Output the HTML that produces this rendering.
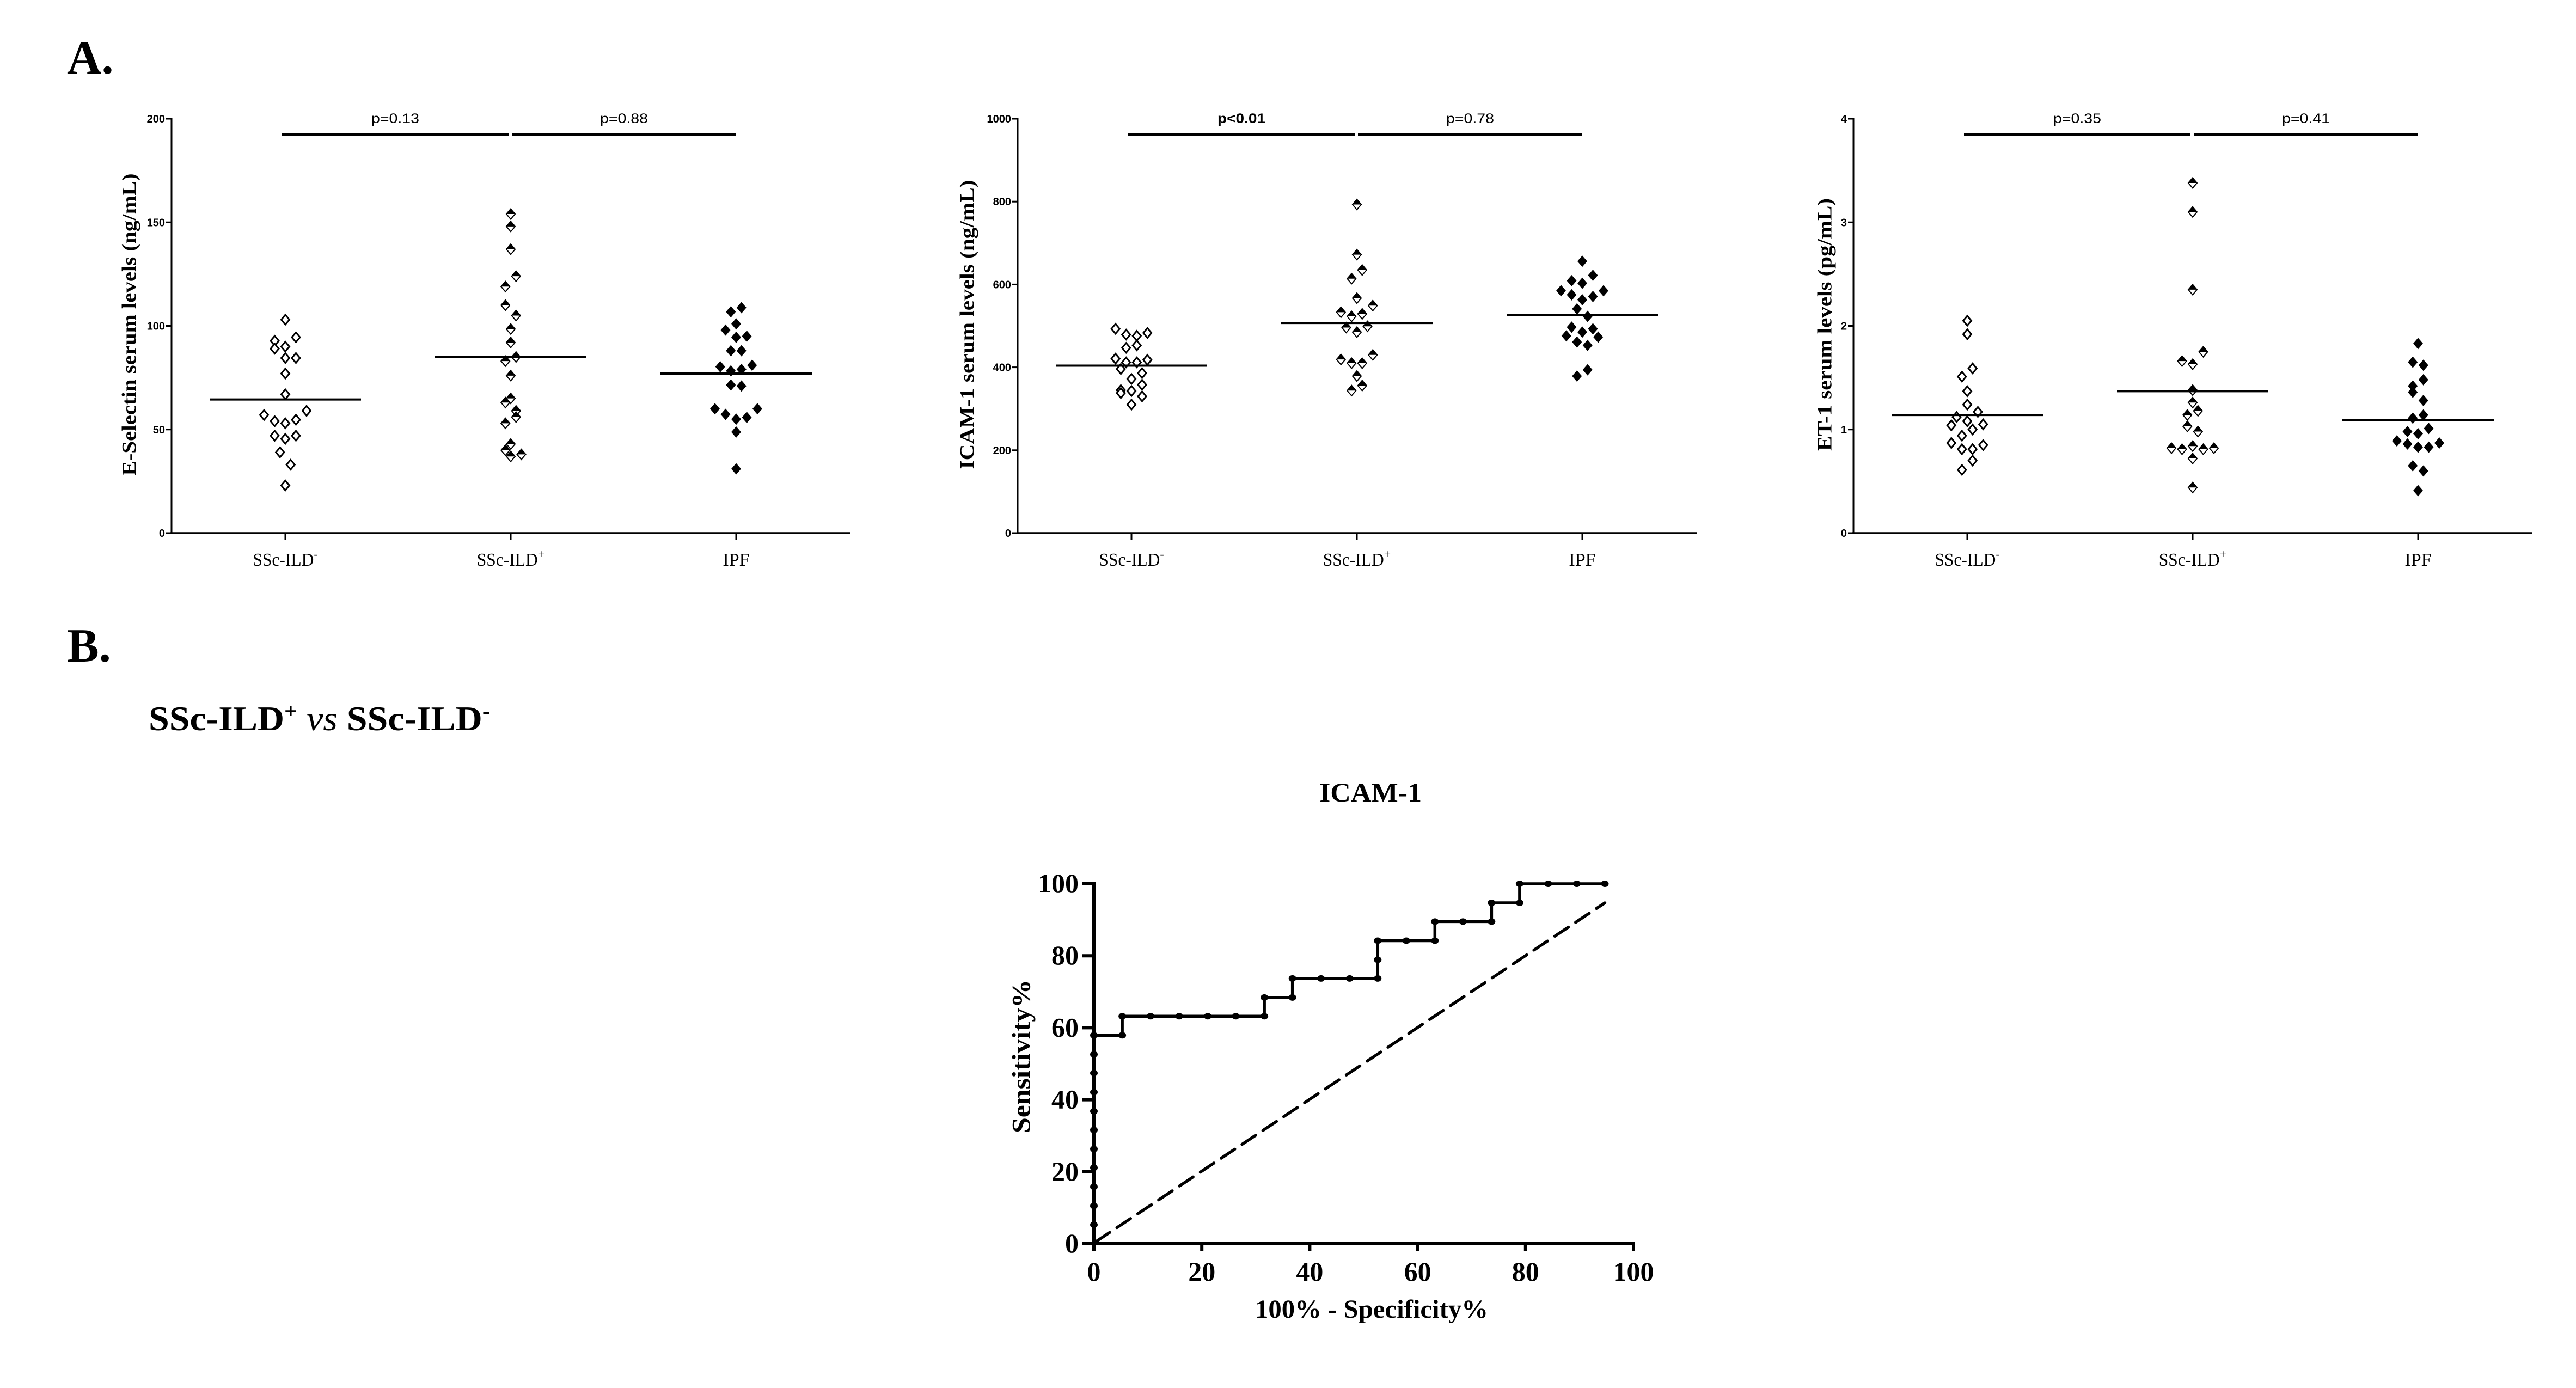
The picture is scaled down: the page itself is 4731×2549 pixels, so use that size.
<!DOCTYPE html>
<html><head><meta charset="utf-8"><style>
html,body{margin:0;padding:0;background:#fff;}
svg{display:block;}
text{fill:#000;}
</style></head><body>
<svg id="fig" width="4731" height="2549" viewBox="0 0 4731 2549" xmlns="http://www.w3.org/2000/svg">
<text x="123" y="135" font-family="Liberation Serif, serif" font-weight="bold" font-size="88">A.</text>
<text x="123" y="1215" font-family="Liberation Serif, serif" font-weight="bold" font-size="88">B.</text>
<text x="273" y="1341" font-family="Liberation Serif, serif" font-weight="bold" font-size="64" textLength="627" lengthAdjust="spacingAndGlyphs">SSc-ILD<tspan font-size="40" dy="-22">+</tspan><tspan dy="22"> </tspan><tspan font-style="italic" font-weight="normal">vs</tspan> SSc-ILD<tspan font-size="40" dy="-22">-</tspan></text>
<g id="panels"></g>
<g id="roc"></g>
</svg>
<script>
// ===== Panel A data =====
const categories = ["SSc-ILD", "SSc-ILD", "IPF"];
const catSup = ["-", "+", ""];
// E-selectin
const esel_neg = [103,94.5,92.8,90,89,84.5,84.5,77,67,59,57,54,53,54.7,47,45.5,47,39,33,23];
const esel_neg_off = [0,1,-1,0,-1,0,1,0,0,2,-2,-1,0,1,-1,0,1,-0.5,0.5,0];
const esel_pos = [154,148,137,124,119,110,105,98.5,92,85,83,76,65,63,59,56,53,43,40,38,37];
const esel_pos_off = [0,0,0,0.5,-0.5,-0.5,0.5,0,0,0.5,-0.5,0,0,-0.5,0.5,0.5,-0.5,0,-0.5,1,0];
const esel_ipf = [108.8,106.8,101,98,94.5,95,88,88,80.3,81,78.3,79,71.5,71,60,57.3,55,55.8,60,48.8,31];
const esel_ipf_off = [0.5,-0.5,0,-1,0,1,-0.5,0.5,-1.5,1.5,-0.5,0.5,-0.5,0.5,-2,-1,0,1,2,0,0];
const esel_medians = [64.5,85,77];
const esel_ticks = [0,50,100,150,200];
// ICAM-1
const icam_neg = [493,479,476,483,447,453,421,412,412,418,396,386,372,358,345,343,338,330,310];
const icam_neg_off = [-1.5,-0.5,0.5,1.5,-0.5,0.5,-1.5,-0.5,0.5,1.5,-1,1,0,1,-1,0,-1,1,0];
const icam_pos = [793,672,635,614,567,549,533,529,523,496,499,485,430,419,410,410,379,356,344];
const icam_pos_off = [0,0,0.5,-0.5,0,1.5,-1.5,0.5,-0.5,-1,1,0,1.5,-1.5,-0.5,0.5,0,0.5,-0.5];
const icam_ipf = [656,622,609,603,585,585,575,571,563,541,523,497,493,485,476,473,461,453,394,379];
const icam_ipf_off = [0,1,-1,0,-2,2,-1,1,0,-0.5,0.5,-1,1,0,-1.5,1.5,-0.5,0.5,0.5,-0.5];
const icam_medians = [404,507,526];
const icam_ticks = [0,200,400,600,800,1000];
// ET-1
const et_neg = [2.05,1.92,1.59,1.51,1.37,1.24,1.17,1.12,1.08,1.04,1.05,1.0,0.94,0.87,0.85,0.81,0.81,0.70,0.61];
const et_neg_off = [0,0,0.5,-0.5,0,0,1,-1,0,-1.5,1.5,0.5,-0.5,-1.5,1.5,-0.5,0.5,0.5,-0.5];
const et_pos = [3.38,3.10,2.35,1.75,1.66,1.63,1.38,1.26,1.18,1.14,1.03,0.98,0.84,0.82,0.81,0.81,0.82,0.72,0.44];
const et_pos_off = [0,0,0,1,-1,0,0,0,0.5,-0.5,-0.5,0.5,0,-2,-1,1,2,0,0];
const et_ipf = [1.83,1.65,1.62,1.48,1.42,1.36,1.28,1.14,1.11,1.01,0.98,0.96,0.89,0.86,0.87,0.83,0.83,0.65,0.60,0.41];
const et_ipf_off = [0,-0.5,0.5,0.5,-0.5,-0.5,0.5,0.5,-0.5,1,-1,0,-2,-1,2,0,1,-0.5,0.5,0];
const et_medians = [1.14,1.37,1.09];
const et_ticks = [0,1,2,3,4];
const pvals_esel = ["p=0.13","p=0.88"];
const pvals_icam = ["p<0.01","p=0.78"];
const pvals_et = ["p=0.35","p=0.41"];

// ===== ROC data =====
const roc_x = [0,0,0,0,0,0,0,0,0,0,0,5.26,5.26,10.5,15.8,21.1,26.3,31.6,31.6,36.8,36.8,42.1,47.4,52.6,52.6,52.6,57.9,63.2,63.2,68.4,73.7,73.7,78.9,78.9,84.2,89.5,94.7];
const roc_y = [5.26,10.5,15.8,21.1,26.3,31.6,36.8,42.1,47.4,52.6,57.9,57.9,63.2,63.2,63.2,63.2,63.2,63.2,68.4,68.4,73.7,73.7,73.7,73.7,78.9,84.2,84.2,84.2,89.5,89.5,89.5,94.7,94.7,100,100,100,100];
const roc_ticks = [0,20,40,60,80,100];
const ref_line = [0,94.7];

const NS = "http://www.w3.org/2000/svg";
function mk(tag, attrs, parent) {
  const e = document.createElementNS(NS, tag);
  for (const k in attrs) e.setAttribute(k, attrs[k]);
  parent.appendChild(e);
  return e;
}
const SERIF = "Liberation Serif, serif";
const SANS = "Liberation Sans, sans-serif";

const panelsG = document.getElementById("panels");
const panels = [
  {ax:315, max:200, ticks:esel_ticks, groups:[[esel_neg,esel_neg_off],[esel_pos,esel_pos_off],[esel_ipf,esel_ipf_off]], med:esel_medians, p:pvals_esel, title:"E-Selectin serum levels (ng/mL)", tx:238, tlen:555, name:"e-selectin"},
  {ax:1869, max:1000, ticks:icam_ticks, groups:[[icam_neg,icam_neg_off],[icam_pos,icam_pos_off],[icam_ipf,icam_ipf_off]], med:icam_medians, p:pvals_icam, title:"ICAM-1 serum levels (ng/mL)", tx:1777, tlen:531, name:"icam-1"},
  {ax:3404, max:4, ticks:et_ticks, groups:[[et_neg,et_neg_off],[et_pos,et_pos_off],[et_ipf,et_ipf_off]], med:et_medians, p:pvals_et, title:"ET-1 serum levels (pg/mL)", tx:3352, tlen:464, name:"et-1"}
];
const Y0 = 979, Y1 = 218;
panels.forEach((P, pi) => {
  const g = mk("g", {}, panelsG);
  
  
  const yS = v => Y0 - (v / P.max) * (Y0 - Y1);
  const catX = i => P.ax + 209 + i * 414;
  const ya = mk("line", {x1:P.ax, y1:Y1-2, x2:P.ax, y2:Y0+2, stroke:"#000", "stroke-width":3}, g);
  
  
  const xa = mk("line", {x1:P.ax-2, y1:Y0, x2:P.ax+1247, y2:Y0, stroke:"#000", "stroke-width":3.5}, g);
  
  
  P.ticks.forEach(t => {
    const y = yS(t);
    const tl = mk("line", {x1:P.ax-10, y1:y, x2:P.ax, y2:y, stroke:"#000", "stroke-width":3}, g);
    
    
    const tt = mk("text", {x:P.ax-12, y:y+7, "text-anchor":"end", "font-family":SANS, "font-weight":"bold", "font-size":20}, g);
    
    
    tt.textContent = String(t);
  });
  const tt = mk("text", {x:0, y:0, transform:`translate(${P.tx},596) rotate(-90)`, "text-anchor":"middle", "dominant-baseline":"central", "font-family":SERIF, "font-weight":"bold", "font-size":37, textLength:P.tlen, lengthAdjust:"spacingAndGlyphs"}, g);
  
  
  tt.textContent = P.title;
  categories.forEach((c, i) => {
    const x = catX(i);
    const tk = mk("line", {x1:x, y1:Y0, x2:x, y2:Y0+12, stroke:"#000", "stroke-width":3}, g);
    
    
    const lab = mk("text", {x:x, y:1039, "text-anchor":"middle", "font-family":SERIF, "font-size":34}, g);
    
    
    if (catSup[i]) {
      const t1 = mk("tspan", {textLength:112, lengthAdjust:"spacingAndGlyphs"}, lab);
      t1.textContent = c;
      const t2 = mk("tspan", {dy:-14, "font-size":22}, lab);
      t2.textContent = catSup[i];
    } else {
      lab.textContent = c;
    }
  });
  const bars = [[catX(0)-6, catX(1)-4], [catX(1)+2, catX(2)]];
  bars.forEach((b, i) => {
    const bl = mk("line", {x1:b[0], y1:247, x2:b[1], y2:247, stroke:"#000", "stroke-width":4.5}, g);
    
    
    const pt = mk("text", {x:(b[0]+b[1])/2, y:226, "text-anchor":"middle", "font-family":SANS, "font-size":25, "font-weight": P.p[i].indexOf("<")>=0 ? "bold" : "normal", textLength:88, lengthAdjust:"spacingAndGlyphs"}, g);
    
    
    pt.textContent = P.p[i];
  });
  P.groups.forEach((grp, gi) => {
    const vals = grp[0], offs = grp[1];
    vals.forEach((v, k) => {
      const cx = catX(gi) + offs[k] * 19.5, cy = yS(v);
      const hw = 9, hh = 10.5;
      const d = `M${cx},${cy-hh} L${cx+hw},${cy} L${cx},${cy+hh} L${cx-hw},${cy} Z`;
      if (gi === 0) {
        const m = mk("path", {d:`M${cx},${cy-hh+1.5} L${cx+hw-1.5},${cy} L${cx},${cy+hh-1.5} L${cx-hw+1.5},${cy} Z`, fill:"#fff", stroke:"#000", "stroke-width":3}, g);
        
        
      } else if (gi === 1) {
        const m = mk("path", {d:`M${cx},${cy-hh+1} L${cx+hw-1},${cy} L${cx},${cy+hh-1} L${cx-hw+1},${cy} Z`, fill:"#fff", stroke:"#000", "stroke-width":2}, g);
        
        
        const h = mk("path", {d:`M${cx},${cy-hh} L${cx+hw},${cy} L${cx-hw},${cy} Z`, fill:"#000"}, g);
        
        
      } else {
        const m = mk("path", {d:d, fill:"#000"}, g);
        
        
      }
    });
    const my = yS(P.med[gi]);
    const ml = mk("line", {x1:catX(gi)-139, y1:my, x2:catX(gi)+139, y2:my, stroke:"#000", "stroke-width":4}, g);
    
    
  });
});

// ===== ROC =====
const R = document.getElementById("roc");
const RX0 = 2009, RX1 = 3000, RY0 = 2284, RY1 = 1623;
const rx = v => RX0 + v / 100 * (RX1 - RX0);
const ry = v => RY0 - v / 100 * (RY0 - RY1);
const rt = mk("text", {x:2517, y:1472, "text-anchor":"middle", "font-family":SERIF, "font-weight":"bold", "font-size":50, textLength:188, lengthAdjust:"spacingAndGlyphs"}, R);


rt.textContent = "ICAM-1";
const rya = mk("line", {x1:RX0, y1:RY1-3, x2:RX0, y2:RY0+14, stroke:"#000", "stroke-width":6}, R);


const rxa = mk("line", {x1:RX0-22, y1:RY0, x2:RX1+3, y2:RY0, stroke:"#000", "stroke-width":6}, R);


roc_ticks.forEach(t => {
  const yl = mk("line", {x1:RX0-22, y1:ry(t), x2:RX0, y2:ry(t), stroke:"#000", "stroke-width":6}, R);
  
  
  const yt = mk("text", {x:RX0-28, y:ry(t)+16, "text-anchor":"end", "font-family":SERIF, "font-weight":"bold", "font-size":50}, R);
  
  
  yt.textContent = String(t);
  const xl = mk("line", {x1:rx(t), y1:RY0, x2:rx(t), y2:RY0+14, stroke:"#000", "stroke-width":6}, R);
  
  
  const xt = mk("text", {x:rx(t), y:2352, "text-anchor":"middle", "font-family":SERIF, "font-weight":"bold", "font-size":50}, R);
  
  
  xt.textContent = String(t);
});
const ylab = mk("text", {x:0, y:0, transform:"translate(1876,1940) rotate(-90)", "text-anchor":"middle", "dominant-baseline":"central", "font-family":SERIF, "font-weight":"bold", "font-size":48, textLength:282, lengthAdjust:"spacingAndGlyphs"}, R);


ylab.textContent = "Sensitivity%";
const xlab = mk("text", {x:2519, y:2420, "text-anchor":"middle", "font-family":SERIF, "font-weight":"bold", "font-size":48, textLength:428, lengthAdjust:"spacingAndGlyphs"}, R);


xlab.textContent = "100% - Specificity%";
const diag = mk("line", {x1:rx(ref_line[0])+4, y1:ry(ref_line[0])-4, x2:rx(ref_line[1]), y2:ry(ref_line[1]), stroke:"#000", "stroke-width":5.5, "stroke-dasharray":"30 16", "stroke-linecap":"round"}, R);


let d = `M${rx(0)},${ry(0)}`;
roc_x.forEach((x, i) => { d += ` L${rx(x)},${ry(roc_y[i])}`; });
const curve = mk("path", {d:d, fill:"none", stroke:"#000", "stroke-width":5.5}, R);


roc_x.forEach((x, i) => {
  const c = mk("ellipse", {cx:rx(x), cy:ry(roc_y[i]), rx:7, ry:6, fill:"#000"}, R);
  
  
});
</script>
</body></html>
